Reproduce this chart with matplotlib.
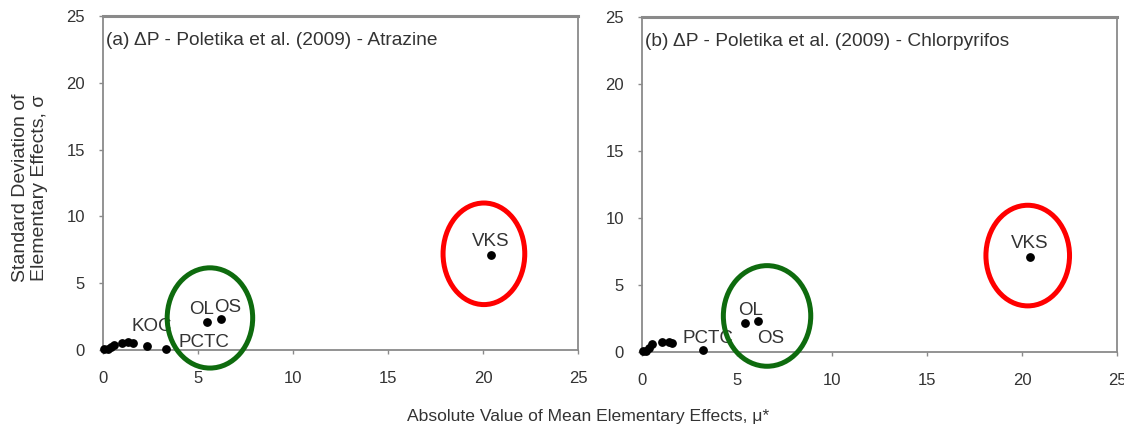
import matplotlib
matplotlib.use("Agg")
import matplotlib.pyplot as plt
from matplotlib.patches import Ellipse

plt.rcParams['font.family'] = ['Liberation Sans', 'DejaVu Sans']

# ---- data: (a) Atrazine ----
mu_a = [0.05, 0.25, 0.4, 0.6, 1.0, 1.3, 1.6, 2.3, 3.3, 5.5, 6.2, 20.4]
sigma_a = [0.05, 0.1, 0.25, 0.38, 0.55, 0.62, 0.55, 0.3, 0.08, 2.1, 2.3, 7.1]
# ---- data: (b) Chlorpyrifos ----
mu_b = [0.05, 0.2, 0.35, 0.5, 1.05, 1.4, 1.6, 3.2, 5.4, 6.1, 20.4]
sigma_b = [0.05, 0.1, 0.3, 0.6, 0.75, 0.75, 0.65, 0.15, 2.15, 2.35, 7.1]

# labels: (text, x, y)
labels_a = [("KOC", 1.5, 1.75), ("OL", 4.55, 3.0), ("OS", 5.85, 3.2),
            ("PCTC", 3.95, 0.6), ("VKS", 20.4, 8.1)]
labels_b = [("OL", 5.05, 3.1), ("OS", 6.05, 1.0), ("PCTC", 2.15, 1.0),
            ("VKS", 20.4, 8.1)]

titles = ["(a) \u0394P - Poletika et al. (2009) - Atrazine",
          "(b) \u0394P - Poletika et al. (2009) - Chlorpyrifos"]

# highlight ellipses: (center_x, center_y, width, height, colour)
ell_a = [(20.05, 7.2, 4.3, 7.6, "#ff0000"), (5.63, 2.4, 4.5, 7.5, "#0e6b0e")]
ell_b = [(20.3, 7.2, 4.4, 7.5, "#ff0000"), (6.58, 2.7, 4.6, 7.5, "#0e6b0e")]

fig = plt.figure(figsize=(11.24, 4.30), dpi=100)
ax1 = fig.add_axes([0.0916, 0.186, 0.4226, 0.777])
ax2 = fig.add_axes([0.5712, 0.181, 0.4226, 0.780])

grey = "#8a8a8a"
txt = "#333333"

for ax, mu, sg, labs, title, ells in [
        (ax1, mu_a, sigma_a, labels_a, titles[0], ell_a),
        (ax2, mu_b, sigma_b, labels_b, titles[1], ell_b)]:
    ax.scatter(mu, sg, s=28, color="black", zorder=3, clip_on=False)
    for t, x, y in labs:
        ax.text(x, y, t, fontsize=13.5, color=txt,
                ha="left" if t != "VKS" else "center", va="center", zorder=4)
    for cx, cy, w, h, c in ells:
        ax.add_patch(Ellipse((cx, cy), w, h, fill=False, edgecolor=c, lw=3.6,
                             zorder=5, clip_on=False))
    ax.set_xlim(0, 25)
    ax.set_ylim(0, 25)
    ax.set_xticks([0, 5, 10, 15, 20, 25])
    ax.set_yticks([0, 5, 10, 15, 20, 25])
    ax.tick_params(axis="both", labelsize=12, labelcolor=txt, color=grey,
                   length=3, width=1, direction="out")
    ax.tick_params(axis="x", pad=12)
    ax.tick_params(axis="y", pad=10)
    for s in ["left", "bottom", "right"]:
        ax.spines[s].set_color(grey)
        ax.spines[s].set_linewidth(1.3)
    ax.spines["top"].set_color(grey)
    ax.spines["top"].set_linewidth(2.2)
    ax.text(0.006, 0.925, title, transform=ax.transAxes, fontsize=13.8,
            color=txt, ha="left", va="center")

fig.text(30 / 1124, 1 - 188 / 430, "Standard Deviation of\nElementary Effects, \u03c3",
         fontsize=14, color=txt, rotation=90, ha="center", va="center",
         multialignment="center", linespacing=1.2)
fig.text(588 / 1124, 1 - 416 / 430, "Absolute Value of Mean Elementary Effects, \u03bc*",
         fontsize=12.6, color=txt, ha="center", va="center")

fig.savefig("out.png", dpi=100)
